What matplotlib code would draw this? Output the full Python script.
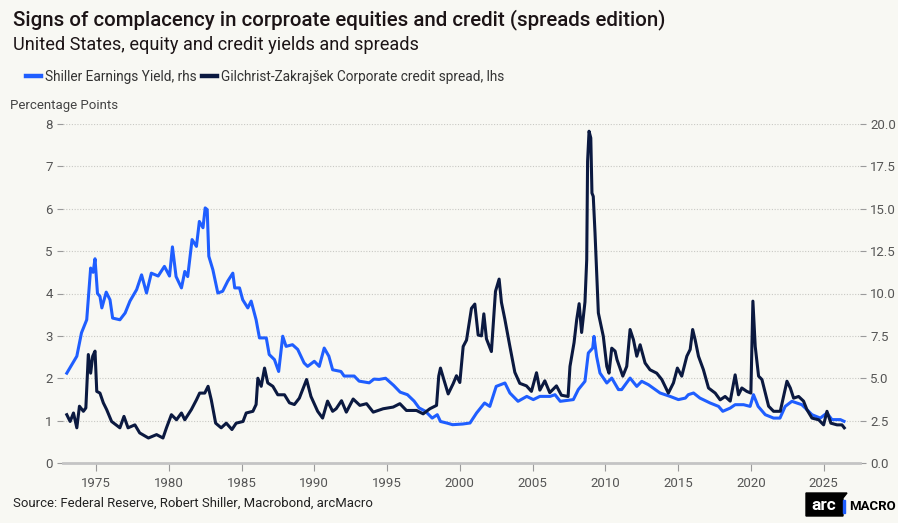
"""US equity earnings yield vs corporate credit spread."""

import matplotlib.pyplot as plt
import numpy as np
from matplotlib.lines import Line2D
from matplotlib.patches import Polygon, Rectangle

plt.rcParams["font.family"] = ["Roboto", "DejaVu Sans"]

# Gilchrist-Zakrajsek credit spread (percentage points, left axis)
gz_years = [
    1972.99, 1973.22, 1973.45, 1973.68, 1973.86, 1974.13, 1974.30, 1974.47, 1974.63, 1974.77,
    1974.93, 1975.05, 1975.27, 1975.50, 1975.73, 1976.07, 1976.64, 1976.92, 1977.20, 1977.67,
    1978.00, 1978.60, 1979.16, 1979.60, 1979.84, 1980.18, 1980.53, 1980.87, 1981.10, 1981.55,
    1981.90, 1982.12, 1982.47, 1982.70, 1982.92, 1983.22, 1983.60, 1983.95, 1984.34, 1984.63,
    1985.10, 1985.32, 1985.78, 1986.00, 1986.12, 1986.35, 1986.58, 1986.80, 1987.15, 1987.49,
    1987.95, 1988.29, 1988.63, 1988.97, 1989.47, 1989.77, 1990.23, 1990.57, 1990.91, 1991.26,
    1991.50, 1991.87, 1992.20, 1992.67, 1993.13, 1993.59, 1994.05, 1994.73, 1995.42, 1995.88,
    1996.33, 1997.02, 1997.48, 1997.94, 1998.40, 1998.55, 1998.67, 1998.90, 1999.20, 1999.54,
    1999.77, 2000.00, 2000.23, 2000.46, 2000.80, 2001.03, 2001.26, 2001.49, 2001.65, 2001.83,
    2002.17, 2002.45, 2002.70, 2002.86, 2003.09, 2003.43, 2003.78, 2004.12, 2004.58, 2004.92,
    2005.27, 2005.50, 2005.84, 2006.18, 2006.64, 2006.98, 2007.44, 2007.57, 2007.85, 2008.03,
    2008.20, 2008.37, 2008.60, 2008.72, 2008.78, 2008.88, 2009.00, 2009.08, 2009.17, 2009.29,
    2009.52, 2009.86, 2010.10, 2010.25, 2010.44, 2010.67, 2010.80, 2011.20, 2011.47, 2011.70,
    2011.93, 2012.16, 2012.39, 2012.73, 2013.07, 2013.53, 2013.88, 2014.33, 2014.68, 2014.95,
    2015.25, 2015.60, 2015.83, 2016.00, 2016.17, 2016.40, 2016.74, 2017.09, 2017.55, 2017.89,
    2018.23, 2018.58, 2018.92, 2019.15, 2019.38, 2019.72, 2020.00, 2020.14, 2020.30, 2020.53,
    2020.76, 2021.22, 2021.56, 2022.02, 2022.25, 2022.48, 2022.71, 2022.94, 2023.28, 2023.62,
    2023.85, 2024.20, 2024.66, 2025.00, 2025.23, 2025.50, 2025.92, 2026.26, 2026.42,
]
gz_spread = [
    1.14, 0.98, 1.18, 0.83, 1.34, 1.22, 1.30, 2.56, 2.12, 2.52,
    2.64, 1.69, 1.65, 1.42, 1.26, 0.98, 0.83, 1.10, 0.83, 0.90,
    0.71, 0.59, 0.67, 0.59, 0.83, 1.14, 1.02, 1.18, 1.02, 1.26,
    1.49, 1.65, 1.65, 1.81, 1.49, 0.94, 0.83, 0.94, 0.79, 0.94,
    0.98, 1.18, 1.22, 1.38, 2.00, 1.81, 2.24, 1.89, 1.81, 1.61,
    1.61, 1.42, 1.38, 1.53, 1.97, 1.57, 1.22, 1.06, 1.46, 1.22,
    1.28, 1.47, 1.20, 1.51, 1.36, 1.40, 1.20, 1.28, 1.32, 1.40,
    1.24, 1.24, 1.16, 1.28, 1.36, 2.05, 2.24, 1.97, 1.63, 1.87,
    2.06, 1.90, 2.75, 2.90, 3.65, 3.75, 3.02, 3.00, 3.52, 2.93,
    2.63, 4.05, 4.34, 3.79, 3.40, 2.77, 2.14, 1.88, 1.82, 1.69,
    2.13, 1.72, 1.94, 1.66, 1.82, 1.60, 1.57, 2.28, 2.84, 3.38,
    3.76, 3.08, 3.80, 4.80, 7.12, 7.83, 7.67, 6.37, 6.29, 5.43,
    3.54, 2.99, 2.28, 2.12, 2.71, 2.64, 2.44, 2.05, 2.28, 3.15,
    2.91, 2.52, 2.79, 2.36, 2.20, 2.12, 1.97, 1.65, 1.89, 2.24,
    2.05, 2.52, 2.68, 3.15, 2.91, 2.52, 2.20, 1.77, 1.65, 1.49,
    1.57, 1.46, 2.08, 1.61, 1.77, 1.69, 1.65, 3.82, 2.75, 2.05,
    1.97, 1.34, 1.22, 1.22, 1.57, 1.93, 1.77, 1.53, 1.57, 1.46,
    1.26, 1.06, 1.02, 0.90, 1.22, 0.94, 0.90, 0.90, 0.83,
]

# Shiller earnings yield (percent, right axis)
ey_years = [
    1972.99, 1973.68, 1974.00, 1974.36, 1974.63, 1974.80, 1974.93, 1975.10, 1975.27, 1975.40,
    1975.70, 1975.96, 1976.14, 1976.64, 1977.00, 1977.33, 1977.79, 1978.13, 1978.47, 1978.80,
    1979.27, 1979.70, 1980.05, 1980.25, 1980.50, 1980.87, 1981.10, 1981.30, 1981.60, 1981.90,
    1982.10, 1982.35, 1982.50, 1982.64, 1982.75, 1983.03, 1983.37, 1983.70, 1984.05, 1984.40,
    1984.53, 1984.86, 1985.08, 1985.43, 1985.66, 1986.00, 1986.23, 1986.70, 1986.90, 1987.26,
    1987.55, 1987.83, 1988.06, 1988.50, 1988.86, 1989.30, 1989.54, 1990.00, 1990.34, 1990.68,
    1991.00, 1991.26, 1991.83, 1992.05, 1992.74, 1993.08, 1993.77, 1994.10, 1994.45, 1994.90,
    1995.45, 1995.90, 1996.40, 1996.86, 1997.20, 1997.64, 1998.10, 1998.45, 1998.67, 1999.14,
    1999.50, 2000.20, 2000.70, 2001.15, 2001.70, 2002.06, 2002.50, 2003.10, 2003.44, 2004.00,
    2004.60, 2005.05, 2005.50, 2006.20, 2006.54, 2006.90, 2007.80, 2008.14, 2008.60, 2008.83,
    2009.13, 2009.22, 2009.40, 2009.63, 2010.10, 2010.44, 2010.90, 2011.12, 2011.70, 2012.16,
    2012.50, 2012.96, 2013.76, 2014.45, 2015.02, 2015.50, 2015.70, 2016.06, 2016.50, 2017.20,
    2017.78, 2018.07, 2018.58, 2018.92, 2019.50, 2019.95, 2020.18, 2020.50, 2020.99, 2021.56,
    2022.00, 2022.36, 2022.82, 2023.16, 2023.50, 2023.85, 2024.20, 2024.77, 2025.23, 2025.57,
    2026.15, 2026.40,
]
ey_yield = [
    5.30, 6.30, 7.68, 8.45, 11.50, 11.25, 12.05, 10.00, 9.83, 9.15,
    10.08, 9.63, 8.55, 8.45, 8.85, 9.55, 10.23, 11.10, 10.03, 11.20,
    11.03, 11.60, 11.03, 12.75, 11.00, 10.33, 11.30, 11.00, 13.18, 12.78,
    14.25, 13.88, 15.05, 14.95, 12.20, 11.40, 10.03, 10.13, 10.73, 11.20,
    10.33, 10.33, 9.63, 9.15, 9.55, 8.45, 7.38, 7.38, 6.40, 6.10,
    5.40, 7.48, 6.88, 6.98, 6.70, 5.90, 5.70, 6.00, 5.70, 6.78,
    6.30, 5.50, 5.40, 5.13, 5.13, 4.83, 4.73, 4.95, 4.93, 5.00,
    4.58, 4.18, 4.03, 3.65, 3.25, 3.05, 2.65, 2.85, 2.45, 2.35,
    2.26, 2.30, 2.36, 2.95, 3.54, 3.34, 4.52, 4.72, 4.13, 3.64,
    3.93, 3.74, 3.93, 3.93, 4.03, 3.64, 3.74, 4.33, 4.82, 6.49,
    6.78, 7.47, 6.29, 5.31, 4.72, 5.01, 4.33, 4.33, 5.01, 4.52,
    4.82, 4.62, 4.13, 3.93, 3.74, 3.83, 4.03, 4.13, 3.83, 3.54,
    3.34, 3.05, 3.24, 3.44, 3.44, 3.34, 4.03, 3.34, 2.85, 2.65,
    2.65, 3.34, 3.64, 3.54, 3.44, 3.15, 2.85, 2.65, 2.95, 2.56,
    2.56, 2.46,
]

year_ticks = list(range(1975, 2030, 5))

BG = "#f8f8f3"
BLUE = "#1f5eff"
NAVY = "#0b1940"
GRID = "#c9c9c4"

fig = plt.figure(figsize=(8.98, 5.23), dpi=100, facecolor=BG)
ax = fig.add_axes([63 / 898, 1 - 463 / 523, (860 - 63) / 898, (463 - 124) / 523])
ax2 = ax.twinx()

# blue series on the right axis, navy series drawn on top
ax2.plot(ey_years, ey_yield, color=BLUE, lw=2.2, solid_joinstyle="round")
ax.plot(gz_years, gz_spread, color=NAVY, lw=2.2, solid_joinstyle="round")
ax.set_zorder(ax2.get_zorder() + 1)
ax.patch.set_visible(False)
ax2.set_facecolor(BG)
ax2.patch.set_visible(True)

ax.set_xlim(1972.73, 2027.5)
ax.set_ylim(0, 8)
ax2.set_ylim(0, 20)
ax.set_yticks(np.arange(0, 9, 1))
ax2.set_yticks(np.arange(0, 20.1, 2.5))
ax2.set_yticklabels([f"{v:.1f}" for v in np.arange(0, 20.1, 2.5)])
ax.set_xticks(year_ticks)

ax2.grid(axis="y", color=GRID, linestyle=(0, (1, 1.5)), linewidth=0.8)
for a in (ax, ax2):
    for side in ("top", "left", "right"):
        a.spines[side].set_visible(False)
    a.spines["bottom"].set_color("#c4c4c4")
    a.spines["bottom"].set_linewidth(2.0)
    a.tick_params(colors="#9a9a9a", labelcolor="#555555", labelsize=9.5,
                  length=4, width=0.8)
ax.tick_params(axis="x", length=6, pad=4)
ax2.spines["bottom"].set_visible(False)

fig.text(13 / 898, 1 - 20 / 523, "Signs of complacency in corproate equities and credit (spreads edition)",
         fontsize=14.8, fontweight="medium", color="#1c1416", va="center")
fig.text(13 / 898, 1 - 45 / 523, "United States, equity and credit yields and spreads",
         fontsize=13.1, color="#1c1416", va="center")
fig.text(10 / 898, 1 - 106 / 523, "Percentage Points", fontsize=9.5, color="#444444", va="center")
fig.text(13 / 898, 1 - 503 / 523, "Source: Federal Reserve, Robert Shiller, Macrobond, arcMacro",
         fontsize=9.45, color="#222222", va="center")

handles = [Line2D([], [], color=BLUE, lw=3.2), Line2D([], [], color=NAVY, lw=3.2)]
labels = ["Shiller Earnings Yield, rhs", "Gilchrist-Zakrajšek Corporate credit spread, lhs"]
fig.legend(handles, labels, loc="center left", bbox_to_anchor=(14 / 898, 1 - 77 / 523),
           ncol=2, frameon=False, fontsize=9.8, handlelength=1.1, handletextpad=0.3,
           columnspacing=0.4, labelcolor="#333333")

# logo block: slanted black tag with "arc", blue bar, then "MACRO"
tag = Polygon([(806 / 898, 1 - 516 / 523), (806 / 898, 1 - 493 / 523),
               (847 / 898, 1 - 493 / 523), (843 / 898, 1 - 498 / 523),
               (843 / 898, 1 - 516 / 523)], closed=True,
              transform=fig.transFigure, color="black")
fig.patches.append(tag)
fig.text(824 / 898, 1 - 506 / 523, "arc", color="white", fontsize=12.5, fontweight="bold",
         ha="center", va="center")
fig.patches.append(Rectangle((843 / 898, 1 - 513 / 523), 2 / 898, 13 / 523,
                             transform=fig.transFigure, color=BLUE))
fig.text(849 / 898, 1 - 506 / 523, "MACRO", color="black", fontsize=9.5, fontweight="bold",
         ha="left", va="center")

fig.savefig("out.png", dpi=100, facecolor=BG)
